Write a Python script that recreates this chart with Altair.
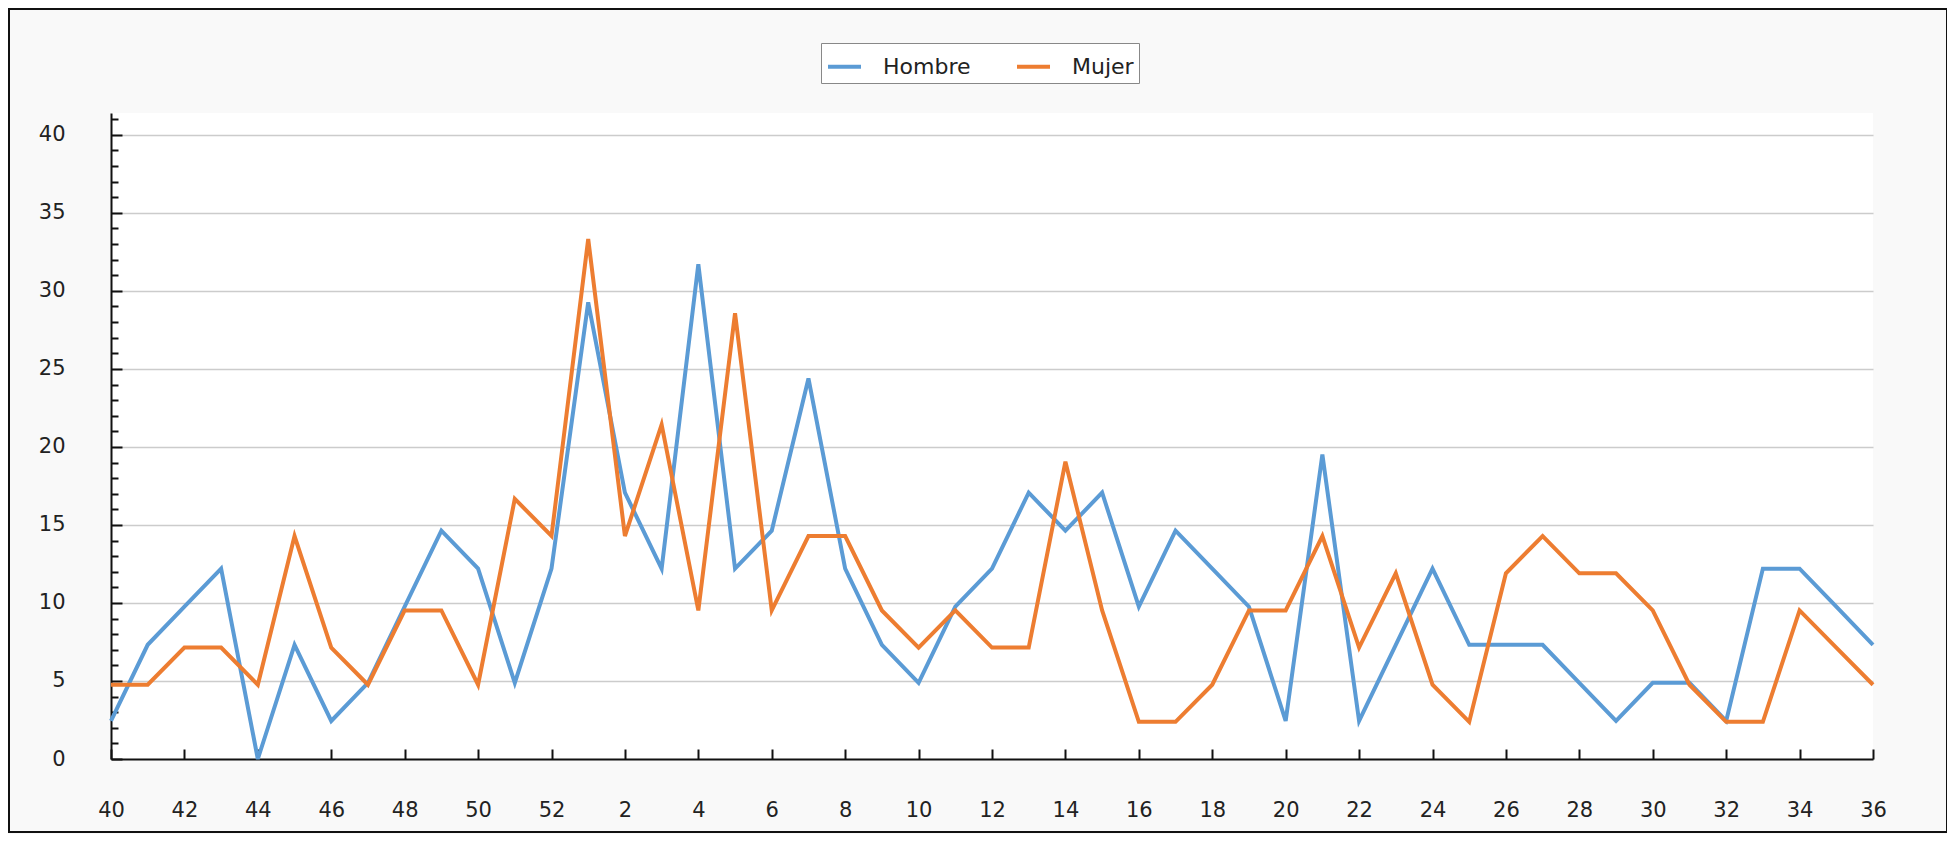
import altair as alt
import pandas as pd

# Week labels (season: week 40 to 52, then 1 to 36)
semanas = ["40", "41", "42", "43", "44", "45", "46", "47", "48", "49", "50", "51", "52",
           "1", "2", "3", "4", "5", "6", "7", "8", "9", "10", "11", "12", "13", "14",
           "15", "16", "17", "18", "19", "20", "21", "22", "23", "24", "25", "26", "27",
           "28", "29", "30", "31", "32", "33", "34", "35", "36"]

hombre = [2.44, 7.32, 9.76, 12.20, 0.00, 7.32, 2.44, 4.88, 9.76, 14.63, 12.20, 4.88, 12.20,
          29.27, 17.07, 12.20, 31.71, 12.20, 14.63, 24.39, 12.20, 7.32, 4.88, 9.76, 12.20,
          17.07, 14.63, 17.07, 9.76, 14.63, 12.20, 9.76, 2.44, 19.51, 2.44, 7.32, 12.20,
          7.32, 7.32, 7.32, 4.88, 2.44, 4.88, 4.88, 2.44, 12.20, 12.20, 9.76, 7.32]

mujer = [4.76, 4.76, 7.14, 7.14, 4.76, 14.29, 7.14, 4.76, 9.52, 9.52, 4.76, 16.67, 14.29,
         33.33, 14.29, 21.43, 9.52, 28.57, 9.52, 14.29, 14.29, 9.52, 7.14, 9.52, 7.14,
         7.14, 19.05, 9.52, 2.38, 2.38, 4.76, 9.52, 9.52, 14.29, 7.14, 11.90, 4.76,
         2.38, 11.90, 14.29, 11.90, 11.90, 9.52, 4.76, 2.38, 2.38, 9.52, 7.14, 4.76]

series = ["Hombre", "Mujer"]
colores = ["#5b9bd5", "#ed7d31"]

x_tick_labels = ["40", "42", "44", "46", "48", "50", "52", "2", "4", "6", "8", "10", "12",
                 "14", "16", "18", "20", "22", "24", "26", "28", "30", "32", "34", "36"]
y_ticks = list(range(0, 42))

rows = []
for i, s in enumerate(semanas):
    rows.append({"semana": s, "serie": "Hombre", "valor": hombre[i], "orden": 0})
for i, s in enumerate(semanas):
    rows.append({"semana": s, "serie": "Mujer", "valor": mujer[i], "orden": 1})
df = pd.DataFrame(rows)

FONT = "DejaVu Sans"
W, H = 1762, 646

lines = alt.Chart(df).mark_line(strokeWidth=4, strokeJoin="miter", clip=False).encode(
    x=alt.X("semana:O", title=None,
            scale=alt.Scale(type="point", domain=semanas, padding=0),
            axis=alt.Axis(values=x_tick_labels, labelAngle=0, grid=False,
                          domainColor="#111111", domainWidth=2,
                          tickColor="#111111", tickWidth=2,
                          tickSize={"expr": "-10"},
                          labelPadding=50, labelFont=FONT, labelFontSize=21,
                          labelColor="#222222")),
    y=alt.Y("valor:Q", title=None,
            scale=alt.Scale(domain=[0, 41.4], nice=False, zero=True),
            axis=alt.Axis(values=y_ticks,
                          labelExpr="datum.value % 5 === 0 ? datum.label : ''",
                          grid=True, gridColor="#cccccc", gridWidth=1.5,
                          gridOpacity={"condition": {"test": "datum.value % 5 === 0 && datum.value > 0", "value": 1}, "value": 0},
                          domainColor="#111111", domainWidth=2,
                          tickColor="#111111", tickWidth=2,
                          tickSize={"expr": "datum.value % 5 === 0 ? -11 : -7"},
                          labelPadding=57, labelFont=FONT, labelFontSize=21,
                          labelColor="#222222")),
    color=alt.Color("serie:N", title=None,
                    scale=alt.Scale(domain=series, range=colores),
                    legend=alt.Legend(orient="none", legendX=710, legendY=-70,
                                      direction="horizontal", symbolType="stroke",
                                      symbolSize=1089, symbolStrokeWidth=4,
                                      labelFont=FONT, labelFontSize=22, labelColor="#222222",
                                      labelOffset=20, columnPadding=38,
                                      strokeColor="#888888", fillColor="white",
                                      padding=5)),
    order=alt.Order("orden:Q"),
)

frame = alt.Chart(alt.Data(values=[{"k": 1}])).mark_rect(
    fill=None, stroke="#111111", strokeWidth=2, clip=False
).encode(
    x=alt.value(-102), x2=alt.value(1836),
    y=alt.value(-104), y2=alt.value(719),
)

chart = alt.layer(frame, lines).properties(
    width=W, height=H,
    autosize=alt.AutoSizeParams(type="none"),
    padding={"left": 103, "top": 105, "right": 74, "bottom": 75},
    background="#f9f9f9",
).configure_view(fill="white", stroke=None)

chart.save("out.html", embed_options={"renderer": "svg", "actions": False})
